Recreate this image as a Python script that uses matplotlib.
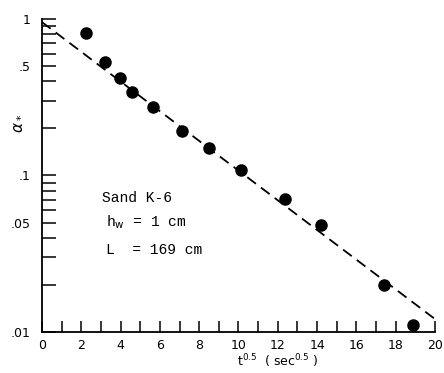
import numpy as np
import matplotlib.pyplot as plt
from matplotlib.ticker import FixedLocator, NullFormatter

# Données
t_sqrt = [2.26, 3.22, 3.97, 4.57, 5.63, 7.14, 8.49, 10.15, 12.36, 14.22, 17.39, 18.9]
alpha = [0.81, 0.53, 0.42, 0.34, 0.274, 0.192, 0.150, 0.108, 0.071, 0.048, 0.020, 0.011]

# Droite d'ajustement (extrémités)
fit_x = [0, 20]
fit_y = [0.955, 0.0121]

y_ticks = [0.01, 0.05, 0.1, 0.5, 1]
y_labels = [".01", ".05", ".1", ".5", "1"]
x_ticks = list(range(0, 21, 2))

fig = plt.figure(figsize=(4.44, 3.73), dpi=100)
ax = fig.add_axes([0.0946, 0.110, 0.885, 0.839])

ax.plot(fit_x, fit_y, color="black", linestyle=(0, (6, 3.5)), linewidth=1.3)
ax.plot(t_sqrt, alpha, "o", color="black", markersize=8)

ax.set_yscale("log")
ax.set_xlim(0, 20)
ax.set_ylim(0.01, 1)

ax.spines["top"].set_visible(False)
ax.spines["right"].set_visible(False)
ax.spines["left"].set_linewidth(1.3)
ax.spines["bottom"].set_linewidth(1.3)

ax.xaxis.set_major_locator(FixedLocator(x_ticks))
ax.xaxis.set_minor_locator(FixedLocator(list(range(1, 21, 2))))
ax.yaxis.set_major_locator(FixedLocator(y_ticks))
minors = [m * d for d in (0.01, 0.1) for m in range(2, 10) if m != 5]
ax.yaxis.set_minor_locator(FixedLocator(minors))
ax.yaxis.set_minor_formatter(NullFormatter())
ax.set_yticklabels(y_labels)

ax.tick_params(axis="x", which="both", direction="in", length=8, width=1.1, pad=5, labelsize=9)
ax.tick_params(axis="y", which="both", direction="in", length=10, width=1.1, pad=8, labelsize=9)

ax.set_ylabel(r"$\alpha_*$", fontsize=11)
ax.yaxis.set_label_coords(-0.045, 0.668)
ax.set_xlabel(r"t$^{0.5}$  ( sec$^{0.5}$ )", fontsize=9, labelpad=0, x=0.6)

mono = "Liberation Mono"
ax.text(3.05, 0.072, "Sand K-6", family=mono, fontsize=10.5, va="center")
ax.text(3.25, 0.050, r"h$_\mathrm{w}$ = 1 cm", family=mono, fontsize=10.5, va="center")
ax.text(3.25, 0.0335, "L  = 169 cm", family=mono, fontsize=10.5, va="center")

plt.savefig("out.png", dpi=100)
